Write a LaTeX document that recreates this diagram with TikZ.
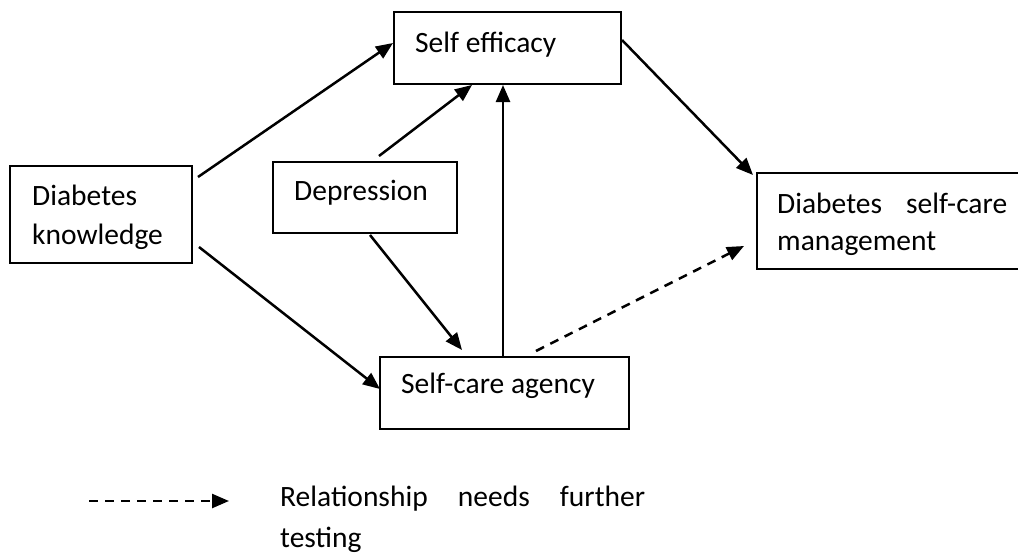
\documentclass[tikz,border=0pt]{standalone}
\usepackage{fontspec}
\setmainfont{Carlito}
\usetikzlibrary{arrows.meta,fit}
\begin{document}
\begin{tikzpicture}[x=1pt,y=-1pt,
  box/.style={draw,line width=2.3pt,inner sep=0pt,outer sep=0pt},
  txt/.style={anchor=base west,inner sep=0pt,font=\fontsize{29.5}{39}\selectfont},
  conn/.style={line width=2.5pt,-{Triangle[length=17pt,width=14pt]}},
  dashconn/.style={conn,dash pattern=on 9pt off 7pt}]
\useasboundingbox (0,0) rectangle (1018,555);
% boxes
\node[box,fit={(394,12) (621,84)}] (se) {};
\node[box,fit={(10,166) (192,263)}] (dk) {};
\node[box,fit={(273,162) (457,233)}] (dep) {};
\node[box,fit={(380,357) (629,429)}] (sca) {};
\node[box,fit={(757,173) (1040,269)}] (dscm) {};
% texts
\node[txt] (setxt) at (415,52) {Self efficacy};
\node[txt] (dktxta) at (32,205) {Diabetes};
\node[txt] (dktxtb) at (32,244) {knowledge};
\node[txt] (deptxt) at (294,200) {Depression};
\node[txt] (scatxt) at (401,393) {Self-care agency};
\node[txt] (dscmtxta) at (777,213) {\makebox[230pt][l]{Diabetes\hfill self-care}};
\node[txt] (dscmtxtb) at (777,250) {management};
\node[txt] (legtxta) at (280,506) {\makebox[365pt][l]{Relationship\hfill needs\hfill further}};
\node[txt] (legtxtb) at (280,547) {testing};
% connector end points
\coordinate (dkA) at (198,177);
\coordinate (seA) at (393,43);
\coordinate (dkB) at (199,247);
\coordinate (scaA) at (380,389);
\coordinate (depA) at (379,156);
\coordinate (seB) at (472,85);
\coordinate (depB) at (370,235);
\coordinate (scaB) at (462,350);
\coordinate (scaC) at (503,357);
\coordinate (seC) at (503,85);
\coordinate (seD) at (622,40);
\coordinate (dscmA) at (753,175);
\coordinate (scaD) at (536,351);
\coordinate (dscmB) at (744,246);
\coordinate (legA) at (89,501);
\coordinate (legB) at (229,501);
% connectors
\draw[conn] (dkA) -- (seA);
\draw[conn] (dkB) -- (scaA);
\draw[conn] (depA) -- (seB);
\draw[conn] (depB) -- (scaB);
\draw[conn] (scaC) -- (seC);
\draw[conn] (seD) -- (dscmA);
\draw[dashconn] (scaD) -- (dscmB);
\draw[dashconn] (legA) -- (legB);
\end{tikzpicture}
\end{document}
